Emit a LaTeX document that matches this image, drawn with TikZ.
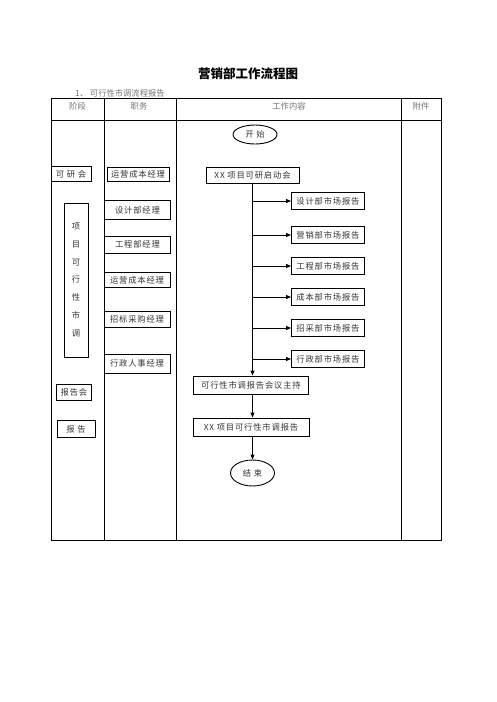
\documentclass[tikz,border=0pt]{standalone}
\usepackage{fontspec}
\newfontfamily\cjk[LetterSpace=10]{Noto Sans CJK SC}
\newfontfamily\cjkplain{Noto Sans CJK SC}
\usetikzlibrary{arrows.meta,shapes.geometric}
\tikzset{
  bx/.style={draw, line width=0.9pt, inner sep=0pt, text=black!80, font=\cjk\fontsize{8.3}{10}\selectfont},
  ov/.style={bx, ellipse},
  hd/.style={inner sep=0pt, text=black!55, font=\cjkplain\fontsize{8.3}{10}\selectfont},
  arr/.style={line width=0.9pt, -{Triangle[length=5pt,width=4pt]}},
  grid/.style={line width=0.9pt}
}
\begin{document}
\begin{tikzpicture}[x=1pt,y=-1pt]
\useasboundingbox (0,0) rectangle (496,702);
% title
\node[inner sep=0pt, font=\cjkplain\bfseries\fontsize{12.5}{14}\selectfont] (title) at (248,73.5) {营销部工作流程图};
\node[hd, anchor=west] (sub) at (75,93) {1、 可行性市调流程报告};
% table
\draw[grid] (51,98) rectangle (441,540);
\draw[grid] (51,120) -- (441,120);
\draw[grid] (104,98) -- (104,540);
\draw[grid] (176,98) -- (176,540);
\draw[grid] (401,98) -- (401,540);
\node[hd] (h1) at (77.5,106) {阶段};
\node[hd] (h2) at (139,106) {职务};
\node[hd] (h3) at (289,106) {工作内容};
\node[hd] (h4) at (421,106) {附件};
% stage column
\node[bx, minimum width=40pt, minimum height=15pt] (kyh) at (71,174) {可 研 会};
\node[bx, minimum width=24pt, minimum height=154pt, align=center, font=\cjk\fontsize{8.3}{17.7}\selectfont] (tall) at (76,280) {项\\目\\可\\行\\性\\市\\调};
\node[bx, minimum width=35pt, minimum height=16pt] (bgh) at (74,392) {报告会};
\node[bx, minimum width=38pt, minimum height=17pt] (bg) at (76,429) {报 告};
% role column
\node[bx, minimum width=62pt, minimum height=14pt] (r1) at (138,174.5) {运营成本经理};
\node[bx, minimum width=66pt, minimum height=19pt] (r2) at (137.5,210) {设计部经理};
\node[bx, minimum width=66pt, minimum height=17pt] (r3) at (137.5,244.5) {工程部经理};
\node[bx, minimum width=66pt, minimum height=15pt] (r4) at (137,280) {运营成本经理};
\node[bx, minimum width=66pt, minimum height=16pt] (r5) at (137,319.5) {招标采购经理};
\node[bx, minimum width=66pt, minimum height=19pt] (r6) at (137,363.5) {行政人事经理};
% content column
\node[ov, minimum width=44pt, minimum height=19pt] (start) at (255,134.5) {开 始};
\node[bx, minimum width=93pt, minimum height=16pt] (kick) at (252.5,175) {XX 项目可研启动会};
\node[bx, minimum width=73pt, minimum height=17pt] (d1) at (328,201) {设计部市场报告};
\node[bx, minimum width=73pt, minimum height=17pt] (d2) at (328,235) {营销部市场报告};
\node[bx, minimum width=73pt, minimum height=17pt] (d3) at (328,266) {工程部市场报告};
\node[bx, minimum width=73pt, minimum height=17pt] (d4) at (328,297) {成本部市场报告};
\node[bx, minimum width=73pt, minimum height=17pt] (d5) at (328,328) {招采部市场报告};
\node[bx, minimum width=73pt, minimum height=17pt] (d6) at (328,359) {行政部市场报告};
\node[bx, minimum width=115pt, minimum height=18pt] (host) at (251,385) {可行性市调报告会议主持};
\node[bx, minimum width=116pt, minimum height=18pt] (rep) at (251,427) {XX 项目可行性市调报告};
\node[ov, minimum width=44pt, minimum height=26pt] (end) at (252.5,473) {结 束};
% connectors
\draw[arr] (kick.south) -- (kick.south |- host.north);
\foreach \d in {d1,d2,d3,d4,d5,d6}{
  \draw[arr] (kick.south |- \d.west) -- (\d.west);
}
\draw[arr] (kick.south |- host.south) -- (kick.south |- rep.north);
\draw[arr] (kick.south |- rep.south) -- (kick.south |- end.north);
\end{tikzpicture}
\end{document}
